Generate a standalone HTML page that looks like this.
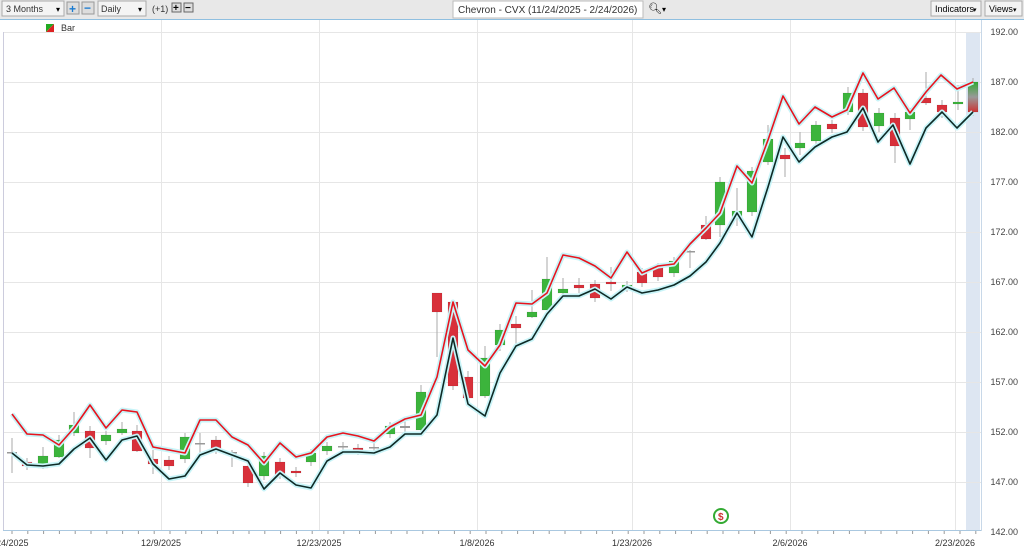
<!DOCTYPE html>
<html><head><meta charset="utf-8"><style>
body{margin:0;width:1024px;height:553px;overflow:hidden;background:#fff;font-family:"Liberation Sans",sans-serif;}
</style></head><body>
<svg id="s" width="1024" height="553" xmlns="http://www.w3.org/2000/svg" font-family="Liberation Sans, sans-serif">
<rect x="0" y="0" width="1024" height="19" fill="#e8e8e8"/>
<line x1="0" y1="19.5" x2="1024" y2="19.5" stroke="#8fbfe0"/>
<rect x="2" y="1" width="62" height="15" fill="#f4f4f4" stroke="#aaa"/>
<text x="6" y="12" font-size="9" fill="#333">3 Months</text><text x="56" y="12" font-size="8">▾</text>
<rect x="67" y="2" width="12" height="12" fill="#ddd" stroke="#999"/><text x="69" y="13" font-size="12" fill="#1a7ad0" font-weight="bold">+</text>
<rect x="82" y="2" width="12" height="12" fill="#ddd" stroke="#999"/><text x="84" y="12" font-size="12" fill="#1a7ad0" font-weight="bold">−</text>
<rect x="98" y="1" width="48" height="15" fill="#f4f4f4" stroke="#aaa"/>
<text x="101" y="12" font-size="9" fill="#333">Daily</text><text x="138" y="12" font-size="8">▾</text>
<text x="152" y="12" font-size="9" fill="#333">(+1)</text>
<rect x="172" y="3" width="9" height="9" fill="#ddd" stroke="#666"/><text x="173" y="11" font-size="10" font-weight="bold">+</text>
<rect x="184" y="3" width="9" height="9" fill="#ddd" stroke="#666"/><text x="185" y="11" font-size="10" font-weight="bold">−</text>
<rect x="453" y="1" width="190" height="17" fill="#fff" stroke="#bbb"/>
<text x="458" y="13" font-size="10" fill="#333">Chevron - CVX (11/24/2025 - 2/24/2026)</text>
<text x="648" y="12" font-size="11">🔍︎</text><text x="662" y="12" font-size="8">▾</text>
<rect x="931" y="1" width="50" height="15" fill="#f4f4f4" stroke="#aaa"/><text x="935" y="12" font-size="9">Indicators</text><text x="973" y="12" font-size="7">▾</text>
<rect x="985" y="1" width="37" height="15" fill="#f4f4f4" stroke="#aaa"/><text x="989" y="12" font-size="9">Views</text><text x="1013" y="12" font-size="7">▾</text>
<polygon points="46,24 54,24 46,32" fill="#2a2"/><polygon points="54,24 54,32 46,32" fill="#d22"/>
<text x="61" y="31" font-size="9" fill="#333">Bar</text>
<rect x="966" y="32" width="14" height="498" fill="#dde6f2"/>
<g id="grid"></g><g id="cand"></g><g id="lines"></g>
<line x1="3.5" y1="32" x2="3.5" y2="531" stroke="#ccd"/>
<line x1="3" y1="530.5" x2="981" y2="530.5" stroke="#aac8e0"/>
<line x1="981.5" y1="20" x2="981.5" y2="531" stroke="#c8d8e8"/>
<circle cx="721" cy="516" r="8" fill="#3a3"/><circle cx="721" cy="516" r="6" fill="#fff"/><text x="718" y="520" font-size="10" fill="#c33" font-weight="bold">$</text>
</svg>
<script>
const NS="http://www.w3.org/2000/svg";
function el(p,t,a){const e=document.createElementNS(NS,t);for(const k in a)e.setAttribute(k,a[k]);p.appendChild(e);return e;}
const g=document.getElementById('grid'),c=document.getElementById('cand'),l=document.getElementById('lines'),s=document.getElementById('s');
for(let p=142;p<=192;p+=5){const y=32+(192-p)*10;if(p>142)el(g,'line',{x1:4,x2:981,y1:y+.5,y2:y+.5,stroke:'#e6e6e6'});
const t=el(s,'text',{x:1018,y:y+3,'font-size':9,fill:'#444','text-anchor':'end'});t.textContent=p.toFixed(2);}
[[161,'12/9/2025'],[319,'12/23/2025'],[477,'1/8/2026'],[632,'1/23/2026'],[790,'2/6/2026'],[955,'2/23/2026']].forEach(d=>{
el(g,'line',{x1:d[0]+.5,x2:d[0]+.5,y1:20,y2:531,stroke:'#e6e6e6'});const t=el(s,'text',{x:d[0],y:546,'font-size':9,fill:'#333','text-anchor':'middle'});t.textContent=d[1];});
const t0=el(s,'text',{x:-4,y:546,'font-size':9,fill:'#333'});t0.textContent='24/2025';
for(let x=12;x<980;x+=15.8)el(g,'line',{x1:x,x2:x,y1:531,y2:534,stroke:'#999'});
const C=[[12,452,453,'d',438,473],[27,462,466,'r'],[43,456,468,'g',447,469],[59,440,457,'g',435,458],[74,425,433,'g',412,436],[90,431,448,'r',426,458],[106,435,441,'g'],[122,429,433,'g',422,435],[137,431,451,'r',425,452],[153,459,464,'r',450,474],[169,460,466,'r'],[185,437,459,'g',433,463],[200,443,444,'d',433,456],[216,440,450,'r'],[232,452,453,'d',450,467],[248,466,483,'r'],[264,456,476,'g'],[280,462,475,'r'],[296,471,473,'r'],[311,453,462,'g'],[327,446,451,'g'],[343,446,447,'d'],[358,448,451,'r'],[374,447,448,'d'],[390,426,434,'g'],[405,426,428,'d',420,437],[421,392,430,'g',385,432],[437,293,312,'r',293,357],[453,302,386,'r',300,390],[468,377,398,'r',371,398],[485,358,396,'g',346,398],[500,330,345,'g',324,351],[516,324,328,'r',316,346],[532,312,317,'g',290,318],[547,279,310,'g',257,310],[563,289,293,'g',278,294],[579,285,288,'r',278,293],[595,284,298,'r'],[611,282,284,'r',267,291],[627,285,288,'g'],[642,272,283,'r'],[658,267,277,'r'],[674,261,273,'g'],[690,251,252,'d',250,268],[706,225,239,'r',216,240],[720,182,225,'g',177,237],[737,211,217,'g',188,226],[752,171,212,'g'],[768,139,162,'g',125,165],[785,155,159,'r',148,177],[800,143,148,'g',132,155],[816,125,141,'g'],[832,124,129,'r'],[848,93,112,'g',87,115],[863,93,127,'r'],[879,113,126,'g',108,132],[895,118,146,'r',113,163],[910,112,119,'g',108,130],[926,98,103,'r',72,105],[942,105,112,'r',100,118],[958,102,104,'g',85,110],[973,82,112,'x']];
const df=el(s,'defs',{});const lg=el(df,'linearGradient',{id:'gr',x1:0,y1:0,x2:0,y2:1});el(lg,'stop',{offset:0,'stop-color':'#3a3'});el(lg,'stop',{offset:.5,'stop-color':'#999'});el(lg,'stop',{offset:1,'stop-color':'#c33'});
C.forEach(a=>{const[x,t,b,k]=a;const wt=a[4]||t-4,wb=a[5]||b+4;
el(c,'line',{x1:x,x2:x,y1:wt,y2:wb,stroke:'#aaa'});
const col=k=='g'?'#3cb43c':k=='r'?'#d8303a':k=='x'?'url(#gr)':'#999';
el(c,'rect',{x:x-5,y:t,width:10,height:Math.max(b-t,1.5),fill:col,stroke:k=='d'?'none':'rgba(0,0,0,.15)','stroke-width':.5});});
const R=[[12,414],[27,434],[43,435],[59,445],[74,428],[90,405],[106,428],[122,410],[137,412],[153,447],[169,450],[185,453],[200,420],[216,420],[232,437],[248,445],[264,463],[280,443],[296,457],[311,453],[327,437],[343,433],[358,436],[374,441],[390,427],[405,419],[421,415],[437,377],[453,302],[468,350],[485,366],[500,345],[516,303],[532,304],[547,293],[563,255],[579,258],[595,266],[611,278],[627,252],[642,273],[658,266],[674,264],[690,244],[706,228],[720,213],[737,166],[752,183],[768,140],[783,96],[799,124],[815,107],[832,117],[847,110],[863,73],[878,99],[894,88],[910,113],[926,92],[941,75],[957,89],[973,82]];
const B=[[12,453],[27,465],[43,466],[59,464],[74,449],[90,438],[106,460],[122,440],[137,436],[153,464],[169,479],[185,476],[200,455],[216,449],[232,455],[248,461],[264,489],[280,473],[296,485],[311,488],[327,461],[343,452],[358,452],[374,453],[390,447],[405,434],[421,434],[437,415],[453,338],[468,404],[485,416],[500,373],[516,346],[532,339],[547,314],[563,296],[579,296],[595,289],[611,299],[627,287],[642,293],[658,290],[674,285],[690,276],[706,262],[720,243],[737,213],[752,237],[768,187],[783,137],[799,162],[815,147],[832,137],[847,132],[863,108],[878,142],[893,125],[910,164],[926,128],[942,112],[957,128],[973,112]];
[[R,'#e8141e'],[B,'#0e2a26']].forEach(([P,col])=>{const pts=P.map(p=>p.join(',')).join(' ');
el(l,'polyline',{points:pts,fill:'none',stroke:'#c8f4f8','stroke-width':5,'stroke-linejoin':'round'});
el(l,'polyline',{points:pts,fill:'none',stroke:col,'stroke-width':1.6,'stroke-linejoin':'round'});});
</script>
</body></html>
